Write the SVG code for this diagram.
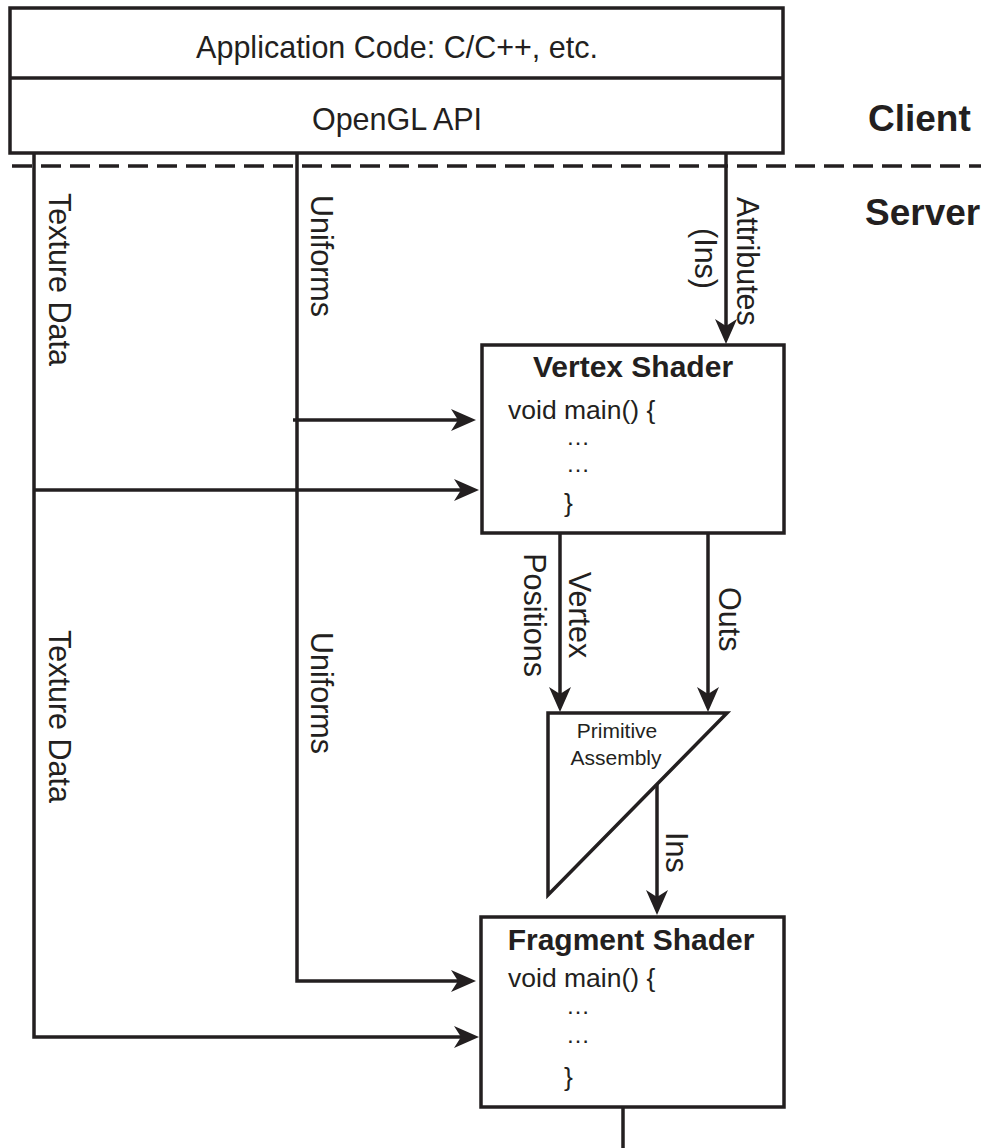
<svg xmlns="http://www.w3.org/2000/svg" width="981" height="1148" viewBox="0 0 981 1148">
<style>
text{font-family:"Liberation Sans",Arial,Helvetica,sans-serif;fill:#231f20}
.lbl{font-size:30.5px}
.ttl{font-size:30px;font-weight:bold}
.code{font-size:26.5px}
.dots{font-size:24px}
.small{font-size:21px}
.side{font-size:37px;font-weight:bold}
.box{fill:#fff;stroke:#231f20;stroke-width:3.5}
.ln{fill:none;stroke:#231f20;stroke-width:3.5}
.arr{fill:none;stroke:#231f20;stroke-width:3.5;marker-end:url(#ah)}
.dash{fill:none;stroke:#231f20;stroke-width:3.5;stroke-dasharray:20 9}
</style>
<defs>
<marker id="ah" markerWidth="26" markerHeight="24" refX="15" refY="12" orient="auto" markerUnits="userSpaceOnUse">
<path d="M0,1 L25,12 L0,23 L7,12 Z" fill="#231f20"/>
</marker>
</defs>

<g id="client-server">
<line class="dash" x1="12" y1="166" x2="981" y2="166"/>
<text class="side" x="868" y="131">Client</text>
<text class="side" x="865" y="225">Server</text>
</g>

<g id="app-box">
<rect class="box" x="10" y="8" width="773" height="145"/>
<line class="ln" x1="10" y1="78" x2="783" y2="78"/>
<text class="lbl" x="397" y="58" text-anchor="middle">Application Code: C/C++, etc.</text>
<text class="lbl" x="397" y="130" text-anchor="middle">OpenGL API</text>
</g>

<g id="connectors">
<path class="arr" d="M34,154 V1037 H469"/>
<path class="arr" d="M34,490 H469"/>
<path class="arr" d="M297,154 V981 H466"/>
<path class="arr" d="M293,420 H466"/>
<path class="arr" d="M726,154 V334"/>
<path class="arr" d="M560,534 V702"/>
<path class="arr" d="M708,534 V702"/>
<path class="arr" d="M657,784 V905"/>
<path class="ln" d="M623,1108 V1148"/>
<text class="lbl" transform="translate(49,193) rotate(90)">Texture Data</text>
<text class="lbl" transform="translate(49,630) rotate(90)">Texture Data</text>
<text class="lbl" transform="translate(311,195) rotate(90)">Uniforms</text>
<text class="lbl" transform="translate(311,632) rotate(90)">Uniforms</text>
<text class="lbl" transform="translate(737,197) rotate(90)">Attributes</text>
<text class="lbl" transform="translate(695,228) rotate(90)">(Ins)</text>
<text class="lbl" transform="translate(569,615) rotate(90)" text-anchor="middle">Vertex</text>
<text class="lbl" transform="translate(524,615) rotate(90)" text-anchor="middle">Positions</text>
<text class="lbl" transform="translate(719,587) rotate(90)">Outs</text>
<text class="lbl" transform="translate(666,832) rotate(90)">Ins</text>
</g>

<g id="vertex-shader">
<rect class="box" x="482" y="345" width="302" height="188"/>
<text class="ttl" x="633" y="377" text-anchor="middle">Vertex Shader</text>
<text class="code" x="508" y="419">void main() {</text>
<text class="dots" x="566" y="445">…</text>
<text class="dots" x="566" y="472">…</text>
<text class="code" x="564" y="512">}</text>
</g>

<g id="primitive-assembly">
<path class="box" d="M548,713 H727 L548,895 Z"/>
<text class="small" x="617" y="738" text-anchor="middle">Primitive</text>
<text class="small" x="616" y="765" text-anchor="middle">Assembly</text>
</g>

<g id="fragment-shader">
<rect class="box" x="481" y="917" width="303" height="190"/>
<text class="ttl" x="631" y="950" text-anchor="middle">Fragment Shader</text>
<text class="code" x="508" y="987">void main() {</text>
<text class="dots" x="566" y="1014">…</text>
<text class="dots" x="566" y="1043">…</text>
<text class="code" x="564" y="1086">}</text>
</g>
</svg>
